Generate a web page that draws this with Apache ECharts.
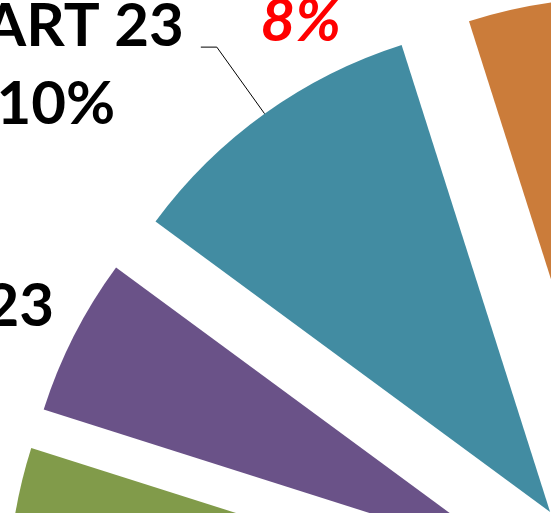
<!DOCTYPE html>
<html>
<head>
<meta charset="utf-8">
<script src="https://cdn.jsdelivr.net/npm/echarts@6/dist/echarts.min.js"></script>
<style>
  html, body { margin: 0; padding: 0; background: #fff; }
  #month_share_con { width: 551px; height: 513px; }
</style>
</head>
<body>
<div id="month_share_con"></div>
<script>
// aylık paylar (%), pasta dilimleri saat yönünde
var months = ['KASIM 22', 'ARALIK 22', 'OCAK 23', 'ŞUBAT 23', 'MART 23', 'NİSAN 23',
              'MAYIS 23', 'HAZİRAN 23', 'TEMMUZ 23', 'AĞUSTOS 23', 'EYLÜL 23', 'EKİM 23'];
var shares = [9.5, 9.2, 4.9, 5.2, 10, 8, 8.8, 9.1, 9.4, 9.0, 8.6, 8.3];
var sliceColors = ['#4A7EBB', '#BE4B48', '#819B4A', '#6A5288', '#428CA2', '#CB7C3A',
                   '#7F9FCF', '#D27F7D', '#A9C27E', '#9581B3', '#79BCD0', '#F3A56B'];
var redMonths = ['NİSAN 23'];

// etiket çizgisi ayarları (ay bazında)
var lineSettings = {
  'ŞUBAT 23': { show: false, length: 19, length2: 0 },
  'MART 23': { show: true, length: 82, length2: 16 },
  'NİSAN 23': { show: false, length: 35, length2: 142 }
};
var labelGap = { 'ŞUBAT 23': 0 };

var chart = echarts.init(document.getElementById('month_share_con'));

var pieData = [];
months.forEach(function (m, i) {
  var item = {
    name: m,
    value: shares[i],
    selected: true,
    itemStyle: { color: sliceColors[i] }
  };
  if (lineSettings[m]) {
    item.labelLine = lineSettings[m];
  }
  if (labelGap[m] != null) {
    item.label = { distanceToLabelLine: labelGap[m] };
  }
  pieData.push(item);
});

var txt = { fontFamily: 'Lato', fontWeight: 'bold', fontSize: 60, lineHeight: 78, color: '#000', width: 280, align: 'center' };

var option = {
  animation: false,
  series: [
    {
      type: 'pie',
      center: [624.7, 616],
      radius: 490,
      startAngle: 247.32,
      clockwise: true,
      selectedMode: 'multiple',
      selectedOffset: 128,
      avoidLabelOverlap: false,
      labelLayout: { hideOverlap: false },
      emphasis: { disabled: true },
      select: { itemStyle: { borderWidth: 0 } },
      label: {
        show: true,
        position: 'outside',
        distanceToLabelLine: 5,
        padding: [38, 0, 0, 0],
        formatter: function (p) {
          var pct = Math.round(p.percent) + '%';
          var key = redMonths.indexOf(p.name) >= 0 ? 'r' : 'p';
          return '{n|' + p.name + '}\n{' + key + '|' + pct + '}';
        },
        rich: {
          n: txt,
          p: txt,
          r: Object.assign({}, txt, { fontStyle: 'italic', color: '#FF0000' })
        }
      },
      labelLine: {
        show: false,
        length: 30,
        length2: 20,
        lineStyle: { color: '#000', width: 1 }
      },
      data: pieData
    }
  ]
};

chart.setOption(option);
</script>
</body>
</html>
